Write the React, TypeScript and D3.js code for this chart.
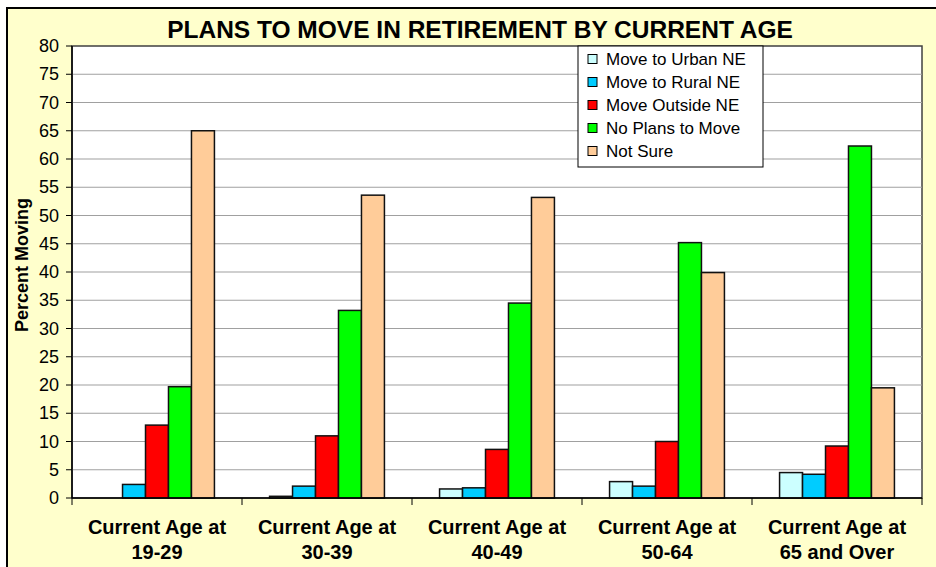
import React from "react";
import * as d3 from "d3";

const categories = [
  ["Current Age at", "19-29"],
  ["Current Age at", "30-39"],
  ["Current Age at", "40-49"],
  ["Current Age at", "50-64"],
  ["Current Age at", "65 and Over"],
];
const seriesNames = [
  "Move to Urban NE",
  "Move to Rural NE",
  "Move Outside NE",
  "No Plans to Move",
  "Not Sure",
];
const seriesColors = ["#CCFFFF", "#00CCFF", "#FF0000", "#00FF00", "#FFCC99"];
const urbanNE = [0, 0.3, 1.6, 2.9, 4.5];
const ruralNE = [2.4, 2.1, 1.8, 2.1, 4.2];
const outsideNE = [12.9, 11.0, 8.6, 10.0, 9.2];
const noPlans = [19.7, 33.2, 34.5, 45.2, 62.3];
const notSure = [65.0, 53.6, 53.2, 39.9, 19.5];
const yTicks = d3.range(0, 81, 5);

const values = [urbanNE, ruralNE, outsideNE, noPlans, notSure];

export default function App() {
  const width = 936;
  const height = 567;
  const left = 72;
  const right = 922;
  const top = 46;
  const bottom = 498;
  const font = "Arial, 'Liberation Sans', sans-serif";

  const y = d3.scaleLinear().domain([0, 80]).range([bottom, top]);
  const x0 = d3
    .scaleBand<number>()
    .domain(d3.range(categories.length))
    .range([left, right])
    .padding(0);
  const x1 = d3
    .scaleBand<number>()
    .domain(d3.range(seriesNames.length))
    .range([0, x0.bandwidth()])
    .paddingInner(0)
    .paddingOuter(1.2);

  return (
    <svg
      width={width}
      height={height}
      style={{ position: "absolute", left: 0, top: 0, fontFamily: font }}
    >
      <rect x={0} y={0} width={width} height={height} fill="#fff" />
      <rect
        x={7}
        y={8}
        width={width + 10}
        height={height + 10}
        fill="#FFFFCC"
        stroke="#000"
        strokeWidth={2}
      />
      <text
        x={480}
        y={38}
        textAnchor="middle"
        fontWeight="bold"
        fontSize={24.5}
        fill="#000"
      >
        PLANS TO MOVE IN RETIREMENT BY CURRENT AGE
      </text>

      {/* plot area */}
      <rect
        x={left}
        y={top}
        width={right - left}
        height={bottom - top}
        fill="#fff"
        stroke="#404040"
        strokeWidth={1.5}
      />
      {yTicks
        .filter((t) => t > 0 && t < 80)
        .map((t) => (
          <line
            key={t}
            x1={left}
            x2={right}
            y1={y(t)}
            y2={y(t)}
            stroke="#a0a0a0"
            strokeWidth={1.2}
          />
        ))}

      {values.map((vals, s) =>
        vals.map((v, c) => (
          <rect
            key={`${s}-${c}`}
            x={x0(c)! + x1(s)!}
            y={y(v)}
            width={x1.bandwidth()}
            height={bottom - y(v)}
            fill={seriesColors[s]}
            stroke="#111"
            strokeWidth={1.5}
          />
        ))
      )}

      {/* y axis */}
      <line x1={left} x2={left} y1={top} y2={bottom} stroke="#000" strokeWidth={1.5} />
      {yTicks.map((t) => (
        <g key={t}>
          <line x1={left - 6} x2={left} y1={y(t)} y2={y(t)} stroke="#000" />
          <text
            x={59}
            y={y(t)}
            textAnchor="end"
            dominantBaseline="central"
            fontSize={18}
            fill="#000"
          >
            {t}
          </text>
        </g>
      ))}
      <text
        transform="translate(28,265) rotate(-90)"
        textAnchor="middle"
        fontWeight="bold"
        fontSize={18}
        fill="#000"
      >
        Percent Moving
      </text>

      {/* x axis */}
      <line x1={left} x2={right} y1={bottom} y2={bottom} stroke="#000" strokeWidth={1.5} />
      {d3.range(categories.length + 1).map((i) => {
        const xx = i < categories.length ? x0(i)! : right;
        return (
          <line key={i} x1={xx} x2={xx} y1={bottom} y2={bottom + 7} stroke="#000" />
        );
      })}
      {categories.map((lines, c) => (
        <text
          key={c}
          x={x0(c)! + x0.bandwidth() / 2}
          textAnchor="middle"
          fontWeight="bold"
          fontSize={20}
          fill="#000"
        >
          {lines.map((l, i) => (
            <tspan key={i} x={x0(c)! + x0.bandwidth() / 2} y={534 + i * 25}>
              {l}
            </tspan>
          ))}
        </text>
      ))}

      {/* legend */}
      <rect x={578} y={46} width={185} height={121} fill="#fff" stroke="#000" />
      {seriesNames.map((name, i) => (
        <g key={name} transform={`translate(588,${59 + i * 23})`}>
          <rect x={0} y={-4.5} width={9} height={9} fill={seriesColors[i]} stroke="#000" />
          <text x={18} y={0} dominantBaseline="central" fontSize={17} fill="#000">
            {name}
          </text>
        </g>
      ))}
    </svg>
  );
}
